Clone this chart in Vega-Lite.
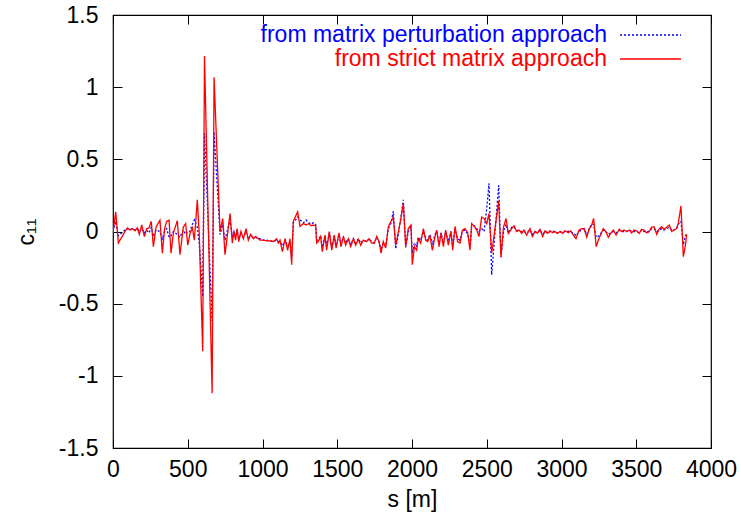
{
  "$schema": "https://vega.github.io/schema/vega-lite/v6.json",
  "width": 598,
  "height": 433,
  "autosize": {"type": "none"},
  "padding": {"left": 113, "top": 15, "right": 30, "bottom": 73},
  "background": "white",
  "config": {
    "view": {"stroke": "#000000", "strokeWidth": 1.2},
    "font": "Liberation Sans",
    "axis": {
      "domain": false,
      "grid": false,
      "tickColor": "#000000",
      "tickSize": -9,
      "tickWidth": 1,
      "labelFlush": false,
      "labelFont": "Liberation Sans",
      "labelFontSize": 23,
      "labelColor": "#000000",
      "titleFont": "Liberation Sans",
      "titleFontSize": 23,
      "titleFontWeight": "normal",
      "titleColor": "#000000"
    }
  },
  "data": {
    "values": [
      {"s": 0, "strict": -0.01, "perturbation": 0.0},
      {"s": 18, "strict": 0.137, "perturbation": 0.07},
      {"s": 36, "strict": -0.08, "perturbation": -0.03},
      {"s": 58, "strict": -0.04, "perturbation": -0.01},
      {"s": 80, "strict": 0.0, "perturbation": 0.01},
      {"s": 96, "strict": 0.025, "perturbation": 0.02},
      {"s": 114, "strict": 0.01, "perturbation": 0.015},
      {"s": 129, "strict": 0.02, "perturbation": 0.02},
      {"s": 147, "strict": 0.005, "perturbation": 0.01},
      {"s": 163, "strict": 0.025, "perturbation": 0.02},
      {"s": 176, "strict": -0.02, "perturbation": 0.0},
      {"s": 192, "strict": 0.045, "perturbation": 0.02},
      {"s": 210, "strict": -0.035, "perturbation": -0.01},
      {"s": 225, "strict": 0.02, "perturbation": 0.01},
      {"s": 241, "strict": 0.025, "perturbation": -0.01},
      {"s": 256, "strict": 0.07, "perturbation": 0.03},
      {"s": 270, "strict": -0.105, "perturbation": -0.035},
      {"s": 288, "strict": 0.03, "perturbation": 0.01},
      {"s": 314, "strict": 0.078, "perturbation": 0.0},
      {"s": 330, "strict": -0.15, "perturbation": -0.05},
      {"s": 345, "strict": 0.02, "perturbation": 0.0},
      {"s": 359, "strict": 0.07, "perturbation": 0.02},
      {"s": 375, "strict": 0.078, "perturbation": -0.04},
      {"s": 388, "strict": -0.15, "perturbation": -0.03},
      {"s": 404, "strict": -0.01, "perturbation": 0.0},
      {"s": 430, "strict": 0.074, "perturbation": -0.02},
      {"s": 448, "strict": -0.16, "perturbation": -0.04},
      {"s": 470, "strict": 0.03, "perturbation": 0.01},
      {"s": 486, "strict": 0.055, "perturbation": -0.02},
      {"s": 500, "strict": -0.095, "perturbation": 0.0},
      {"s": 515, "strict": -0.015, "perturbation": 0.0},
      {"s": 531, "strict": 0.025, "perturbation": 0.05},
      {"s": 544, "strict": -0.06, "perturbation": 0.08},
      {"s": 564, "strict": 0.22, "perturbation": 0.03},
      {"s": 577, "strict": -0.02, "perturbation": -0.08},
      {"s": 600, "strict": -0.83, "perturbation": -0.45},
      {"s": 612, "strict": 1.216, "perturbation": 0.68},
      {"s": 663, "strict": -1.12, "perturbation": -0.62},
      {"s": 676, "strict": 1.068, "perturbation": 0.69},
      {"s": 716, "strict": 0.0, "perturbation": -0.02},
      {"s": 734, "strict": 0.09, "perturbation": 0.05},
      {"s": 749, "strict": -0.16, "perturbation": -0.06},
      {"s": 783, "strict": 0.125, "perturbation": 0.08},
      {"s": 798, "strict": -0.08, "perturbation": -0.04},
      {"s": 809, "strict": 0.0, "perturbation": 0.0},
      {"s": 820, "strict": -0.06, "perturbation": -0.04},
      {"s": 830, "strict": 0.02, "perturbation": 0.01},
      {"s": 841, "strict": -0.07, "perturbation": -0.05},
      {"s": 856, "strict": 0.0, "perturbation": -0.01},
      {"s": 872, "strict": -0.05, "perturbation": -0.04},
      {"s": 890, "strict": 0.02, "perturbation": 0.0},
      {"s": 905, "strict": -0.06, "perturbation": -0.05},
      {"s": 921, "strict": -0.02, "perturbation": -0.03},
      {"s": 939, "strict": -0.05, "perturbation": -0.04},
      {"s": 954, "strict": -0.035, "perturbation": -0.04},
      {"s": 972, "strict": -0.05, "perturbation": -0.05},
      {"s": 983, "strict": -0.06, "perturbation": -0.05},
      {"s": 1005, "strict": -0.06, "perturbation": -0.06},
      {"s": 1028, "strict": -0.065, "perturbation": -0.06},
      {"s": 1050, "strict": -0.065, "perturbation": -0.065},
      {"s": 1072, "strict": -0.07, "perturbation": -0.07},
      {"s": 1095, "strict": -0.05, "perturbation": -0.06},
      {"s": 1106, "strict": -0.08, "perturbation": -0.07},
      {"s": 1117, "strict": -0.06, "perturbation": -0.07},
      {"s": 1133, "strict": -0.14, "perturbation": -0.1},
      {"s": 1151, "strict": -0.05, "perturbation": -0.06},
      {"s": 1168, "strict": -0.13, "perturbation": -0.1},
      {"s": 1184, "strict": -0.05, "perturbation": -0.08},
      {"s": 1195, "strict": -0.23, "perturbation": -0.18},
      {"s": 1206, "strict": 0.07, "perturbation": 0.06},
      {"s": 1235, "strict": 0.137, "perturbation": 0.1},
      {"s": 1251, "strict": 0.035, "perturbation": 0.08},
      {"s": 1273, "strict": 0.055, "perturbation": 0.06},
      {"s": 1291, "strict": 0.045, "perturbation": 0.08},
      {"s": 1311, "strict": 0.055, "perturbation": 0.06},
      {"s": 1324, "strict": 0.04, "perturbation": 0.05},
      {"s": 1340, "strict": 0.045, "perturbation": 0.06},
      {"s": 1356, "strict": 0.04, "perturbation": 0.05},
      {"s": 1362, "strict": -0.08, "perturbation": -0.06},
      {"s": 1373, "strict": -0.07, "perturbation": -0.06},
      {"s": 1389, "strict": -0.035, "perturbation": -0.03},
      {"s": 1400, "strict": -0.14, "perturbation": -0.11},
      {"s": 1418, "strict": -0.025, "perturbation": -0.03},
      {"s": 1429, "strict": -0.13, "perturbation": -0.1},
      {"s": 1447, "strict": 0.0, "perturbation": -0.01},
      {"s": 1463, "strict": -0.13, "perturbation": -0.11},
      {"s": 1480, "strict": -0.025, "perturbation": -0.03},
      {"s": 1492, "strict": -0.115, "perturbation": -0.1},
      {"s": 1512, "strict": -0.01, "perturbation": -0.02},
      {"s": 1525, "strict": -0.105, "perturbation": -0.09},
      {"s": 1541, "strict": -0.035, "perturbation": -0.04},
      {"s": 1556, "strict": -0.095, "perturbation": -0.08},
      {"s": 1574, "strict": -0.05, "perturbation": -0.05},
      {"s": 1590, "strict": -0.105, "perturbation": -0.09},
      {"s": 1608, "strict": -0.05, "perturbation": -0.05},
      {"s": 1623, "strict": -0.095, "perturbation": -0.08},
      {"s": 1641, "strict": -0.055, "perturbation": -0.05},
      {"s": 1657, "strict": -0.095, "perturbation": -0.08},
      {"s": 1674, "strict": -0.06, "perturbation": -0.06},
      {"s": 1697, "strict": -0.07, "perturbation": -0.07},
      {"s": 1712, "strict": -0.05, "perturbation": -0.05},
      {"s": 1730, "strict": -0.08, "perturbation": -0.07},
      {"s": 1748, "strict": -0.08, "perturbation": -0.08},
      {"s": 1764, "strict": -0.035, "perturbation": -0.04},
      {"s": 1779, "strict": -0.07, "perturbation": -0.07},
      {"s": 1793, "strict": -0.15, "perturbation": -0.12},
      {"s": 1808, "strict": -0.07, "perturbation": -0.08},
      {"s": 1824, "strict": -0.115, "perturbation": -0.1},
      {"s": 1842, "strict": 0.035, "perturbation": 0.02},
      {"s": 1860, "strict": 0.07, "perturbation": 0.06},
      {"s": 1875, "strict": 0.1, "perturbation": 0.14},
      {"s": 1891, "strict": -0.095, "perturbation": -0.12},
      {"s": 1909, "strict": 0.0, "perturbation": -0.02},
      {"s": 1926, "strict": 0.09, "perturbation": 0.1},
      {"s": 1942, "strict": 0.195, "perturbation": 0.22},
      {"s": 1958, "strict": -0.105, "perturbation": -0.11},
      {"s": 1975, "strict": 0.02, "perturbation": 0.0},
      {"s": 1993, "strict": 0.045, "perturbation": 0.03},
      {"s": 2002, "strict": -0.23, "perturbation": -0.15},
      {"s": 2016, "strict": -0.105, "perturbation": -0.08},
      {"s": 2031, "strict": -0.13, "perturbation": -0.1},
      {"s": 2042, "strict": -0.05, "perturbation": -0.04},
      {"s": 2058, "strict": -0.08, "perturbation": -0.06},
      {"s": 2076, "strict": 0.02, "perturbation": 0.0},
      {"s": 2091, "strict": -0.06, "perturbation": -0.04},
      {"s": 2105, "strict": -0.07, "perturbation": -0.06},
      {"s": 2120, "strict": -0.025, "perturbation": -0.02},
      {"s": 2136, "strict": -0.13, "perturbation": -0.09},
      {"s": 2154, "strict": -0.035, "perturbation": -0.02},
      {"s": 2165, "strict": 0.01, "perturbation": 0.0},
      {"s": 2181, "strict": -0.105, "perturbation": -0.08},
      {"s": 2194, "strict": -0.01, "perturbation": -0.01},
      {"s": 2210, "strict": -0.105, "perturbation": -0.08},
      {"s": 2225, "strict": 0.01, "perturbation": 0.0},
      {"s": 2243, "strict": -0.095, "perturbation": -0.07},
      {"s": 2261, "strict": 0.0, "perturbation": 0.0},
      {"s": 2272, "strict": -0.13, "perturbation": -0.1},
      {"s": 2288, "strict": 0.035, "perturbation": 0.02},
      {"s": 2305, "strict": -0.07, "perturbation": -0.05},
      {"s": 2321, "strict": -0.08, "perturbation": -0.06},
      {"s": 2337, "strict": 0.01, "perturbation": 0.0},
      {"s": 2355, "strict": 0.02, "perturbation": 0.01},
      {"s": 2373, "strict": -0.01, "perturbation": -0.02},
      {"s": 2388, "strict": -0.13, "perturbation": -0.1},
      {"s": 2399, "strict": 0.055, "perturbation": 0.03},
      {"s": 2417, "strict": 0.035, "perturbation": 0.04},
      {"s": 2433, "strict": 0.01, "perturbation": 0.02},
      {"s": 2448, "strict": -0.035, "perturbation": 0.0},
      {"s": 2466, "strict": 0.1, "perturbation": 0.02},
      {"s": 2482, "strict": 0.09, "perturbation": 0.0},
      {"s": 2500, "strict": 0.055, "perturbation": 0.16},
      {"s": 2515, "strict": 0.125, "perturbation": 0.334},
      {"s": 2533, "strict": -0.15, "perturbation": -0.3},
      {"s": 2580, "strict": 0.21, "perturbation": 0.32},
      {"s": 2595, "strict": -0.18, "perturbation": -0.175},
      {"s": 2612, "strict": 0.03, "perturbation": 0.0},
      {"s": 2629, "strict": 0.09, "perturbation": 0.05},
      {"s": 2644, "strict": -0.013, "perturbation": -0.01},
      {"s": 2667, "strict": 0.02, "perturbation": 0.03},
      {"s": 2682, "strict": 0.04, "perturbation": 0.03},
      {"s": 2700, "strict": 0.0, "perturbation": 0.01},
      {"s": 2716, "strict": 0.01, "perturbation": 0.0},
      {"s": 2734, "strict": -0.013, "perturbation": 0.0},
      {"s": 2749, "strict": 0.01, "perturbation": 0.0},
      {"s": 2767, "strict": -0.025, "perturbation": -0.01},
      {"s": 2789, "strict": 0.02, "perturbation": 0.01},
      {"s": 2805, "strict": -0.035, "perturbation": -0.02},
      {"s": 2823, "strict": 0.0, "perturbation": 0.0},
      {"s": 2838, "strict": -0.013, "perturbation": -0.01},
      {"s": 2856, "strict": 0.015, "perturbation": 0.01},
      {"s": 2874, "strict": -0.035, "perturbation": -0.02},
      {"s": 2890, "strict": 0.005, "perturbation": 0.0},
      {"s": 2908, "strict": -0.013, "perturbation": -0.01},
      {"s": 2923, "strict": 0.005, "perturbation": 0.0},
      {"s": 2939, "strict": -0.008, "perturbation": 0.0},
      {"s": 2957, "strict": 0.0, "perturbation": 0.0},
      {"s": 2972, "strict": -0.013, "perturbation": -0.01},
      {"s": 2990, "strict": 0.0, "perturbation": 0.0},
      {"s": 3008, "strict": -0.013, "perturbation": -0.01},
      {"s": 3023, "strict": 0.005, "perturbation": 0.0},
      {"s": 3046, "strict": -0.008, "perturbation": 0.0},
      {"s": 3061, "strict": 0.005, "perturbation": 0.0},
      {"s": 3079, "strict": -0.025, "perturbation": -0.01},
      {"s": 3097, "strict": -0.05, "perturbation": -0.03},
      {"s": 3117, "strict": 0.01, "perturbation": 0.0},
      {"s": 3135, "strict": 0.02, "perturbation": 0.01},
      {"s": 3151, "strict": 0.02, "perturbation": 0.02},
      {"s": 3169, "strict": -0.04, "perturbation": -0.02},
      {"s": 3186, "strict": 0.02, "perturbation": 0.02},
      {"s": 3200, "strict": 0.04, "perturbation": 0.05},
      {"s": 3215, "strict": 0.09, "perturbation": 0.05},
      {"s": 3232, "strict": -0.105, "perturbation": -0.04},
      {"s": 3250, "strict": -0.05, "perturbation": -0.03},
      {"s": 3280, "strict": 0.02, "perturbation": 0.01},
      {"s": 3296, "strict": 0.0, "perturbation": 0.0},
      {"s": 3313, "strict": -0.04, "perturbation": -0.02},
      {"s": 3329, "strict": -0.013, "perturbation": -0.01},
      {"s": 3347, "strict": 0.01, "perturbation": 0.0},
      {"s": 3365, "strict": -0.025, "perturbation": -0.01},
      {"s": 3387, "strict": 0.015, "perturbation": 0.01},
      {"s": 3402, "strict": 0.0, "perturbation": 0.0},
      {"s": 3418, "strict": 0.01, "perturbation": 0.0},
      {"s": 3436, "strict": 0.0, "perturbation": 0.0},
      {"s": 3454, "strict": 0.01, "perturbation": 0.01},
      {"s": 3469, "strict": -0.01, "perturbation": 0.0},
      {"s": 3485, "strict": 0.01, "perturbation": 0.0},
      {"s": 3503, "strict": 0.005, "perturbation": 0.0},
      {"s": 3520, "strict": -0.013, "perturbation": -0.01},
      {"s": 3536, "strict": 0.015, "perturbation": 0.01},
      {"s": 3552, "strict": 0.01, "perturbation": 0.0},
      {"s": 3570, "strict": -0.01, "perturbation": 0.0},
      {"s": 3587, "strict": 0.0, "perturbation": 0.0},
      {"s": 3603, "strict": 0.03, "perturbation": 0.02},
      {"s": 3619, "strict": 0.033, "perturbation": 0.02},
      {"s": 3637, "strict": -0.02, "perturbation": 0.0},
      {"s": 3654, "strict": 0.02, "perturbation": 0.01},
      {"s": 3670, "strict": 0.033, "perturbation": 0.02},
      {"s": 3686, "strict": 0.015, "perturbation": 0.01},
      {"s": 3704, "strict": 0.03, "perturbation": 0.02},
      {"s": 3721, "strict": 0.045, "perturbation": 0.03},
      {"s": 3737, "strict": 0.0, "perturbation": 0.01},
      {"s": 3752, "strict": 0.01, "perturbation": 0.01},
      {"s": 3770, "strict": 0.02, "perturbation": 0.02},
      {"s": 3781, "strict": 0.056, "perturbation": 0.05},
      {"s": 3799, "strict": 0.177, "perturbation": 0.07},
      {"s": 3815, "strict": -0.175, "perturbation": -0.09},
      {"s": 3831, "strict": -0.08, "perturbation": -0.03},
      {"s": 3837, "strict": -0.02, "perturbation": -0.01}
    ]
  },
  "transform": [
    {"fold": ["perturbation", "strict"], "as": ["series", "c11"]}
  ],
  "layer": [
    {
      "mark": {"type": "line", "strokeWidth": 1.3, "clip": true},
      "encoding": {
        "x": {
          "field": "s", "type": "quantitative",
          "scale": {"domain": [0, 4000], "nice": false, "zero": false},
          "axis": {
            "orient": "bottom",
            "values": [0, 500, 1000, 1500, 2000, 2500, 3000, 3500, 4000],
            "labelExpr": "datum.value + ''",
            "labelPadding": 19,
            "title": "s [m]",
            "titlePadding": 7
          }
        },
        "y": {
          "field": "c11", "type": "quantitative",
          "scale": {"domain": [-1.5, 1.5], "nice": false, "zero": false},
          "axis": {
            "orient": "left",
            "values": [-1.5, -1, -0.5, 0, 0.5, 1, 1.5],
            "labelExpr": "datum.value + ''",
            "labelPadding": 24,
            "title": "c₁₁",
            "titlePadding": 20
          }
        },
        "color": {
          "field": "series", "type": "nominal",
          "scale": {"domain": ["perturbation", "strict"], "range": ["#0000ff", "#ff0000"]},
          "legend": {
            "orient": "none",
            "legendX": 526,
            "legendY": 8.5,
            "title": null,
            "padding": 0,
            "symbolType": "M-6.1,0H6.1",
            "symbolSize": 100,
            "symbolStrokeWidth": 1.3,
            "symbolFillColor": "transparent",
            "labelAlign": "right",
            "labelOffset": -55,
            "labelFont": "Liberation Sans",
            "labelFontSize": 23,
            "labelLimit": 0,
            "rowPadding": 0,
            "labelExpr": "datum.value == 'perturbation' ? 'from matrix perturbation approach' : 'from strict matrix approach'",
            "encode": {"labels": {"update": {"fill": {"signal": "datum.value == 'perturbation' ? '#0000ff' : '#ff0000'"}}}}
          }
        },
        "strokeDash": {
          "field": "series", "type": "nominal",
          "scale": {"domain": ["perturbation", "strict"], "range": [[2, 2], [1, 0]]}
        }
      }
    },
    {
      "mark": {"type": "point", "opacity": 0},
      "encoding": {
        "x": {
          "field": "s", "type": "quantitative",
          "scale": {"domain": [0, 4000], "nice": false, "zero": false},
          "axis": {"orient": "top", "values": [0, 500, 1000, 1500, 2000, 2500, 3000, 3500, 4000], "labels": false, "title": null}
        },
        "y": {
          "field": "c11", "type": "quantitative",
          "scale": {"domain": [-1.5, 1.5], "nice": false, "zero": false},
          "axis": {"orient": "right", "values": [-1.5, -1, -0.5, 0, 0.5, 1, 1.5], "labels": false, "title": null}
        }
      }
    }
  ],
  "resolve": {"axis": {"x": "independent", "y": "independent"}}
}
